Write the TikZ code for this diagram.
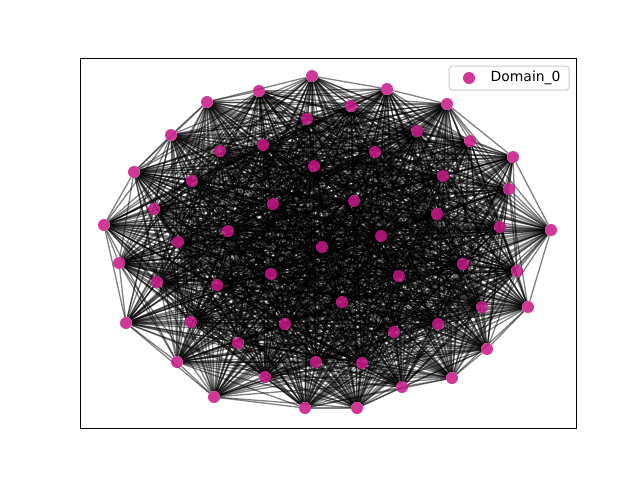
\documentclass[tikz,border=0pt]{standalone}
\usepackage{fontspec}
\setmainfont{DejaVu Sans}
\usepackage{tikz}
\usetikzlibrary{positioning}
\definecolor{domaincolor}{RGB}{199,21,133}
\pgfdeclarelayer{edges}
\pgfsetlayers{edges,main}

\begin{document}
\begin{tikzpicture}[x=1pt, y=-1pt,
  dot/.style={circle, fill=domaincolor, fill opacity=0.85,
    minimum size=12pt, inner sep=0pt},
  link/.style={black, line width=1.3pt, opacity=0.5},
]
  \useasboundingbox (0,0) rectangle (640,480);

  % === NODES ===
  \foreach \n/\x/\y in {1/312/76, 2/387/89, 3/447/104, 4/470/141, 5/513/157,
    6/509/189, 7/551/230, 8/517/271, 9/528/307, 10/487/349, 11/452/378,
    12/402/387, 13/357/408, 14/305/408, 15/214/397, 16/177/362, 17/126/323,
    18/119/263, 19/104/225, 20/134/172, 21/171/135, 22/207/102, 23/259/91,
    24/351/106, 25/307/119, 26/417/131, 27/375/152, 28/263/145, 29/220/151,
    30/192/181, 31/154/209, 32/178/242, 33/157/282, 34/191/322, 35/238/343,
    36/265/377, 37/316/362, 38/362/363, 39/394/332, 40/438/324, 41/482/307,
    42/463/264, 43/500/227, 44/437/214, 45/443/176, 46/314/166, 47/273/204,
    48/228/231, 49/217/285, 50/271/274, 51/285/324, 52/342/302, 53/399/276,
    54/381/236, 55/354/201, 56/322/247} {
    \node[dot] (v\n) at (\x,\y) {};
  }

  % === EDGES (dense random graph) ===
  \begin{pgfonlayer}{edges}
  \foreach \i in {1,...,55} {
    \pgfmathtruncatemacro\nxt{\i+1}
    \foreach \j in {\nxt,...,56} {
      \pgfmathtruncatemacro\keep{mod(\i*7+\j*11+\i*\j*3,10)<9}
      \ifnum\keep=1
        \draw[link] (v\i) -- (v\j);
      \fi
    }
  }
  \end{pgfonlayer}

  % Axes frame
  \draw[line width=1pt] (80,58) rectangle (576,428);

  % Legend
  \draw[line width=1pt, draw=black!20, fill=white, fill opacity=0.8,
    rounded corners=3pt] (449,66) rectangle (569,90);
  \node[dot] (key) at (469,78) {};
  \node[font=\fontsize{13.9}{16}\selectfont, anchor=west, right=12pt of key]
    (keytext) {Domain\_0};
\end{tikzpicture}
\end{document}
